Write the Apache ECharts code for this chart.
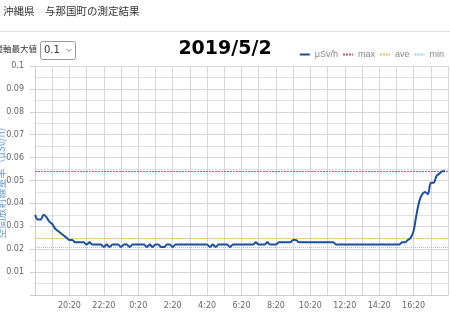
<!DOCTYPE html>
<html>
<head>
<meta charset="utf-8">
<script src="https://cdn.jsdelivr.net/npm/echarts@6/dist/echarts.min.js"></script>
<style>
html,body{margin:0;padding:0;background:#fff;}
#c{width:450px;height:312px;}
</style>
</head>
<body>
<div id="c"></div>
<script>
// ---- data ----
const pageTitle = '沖縄県　与那国町の測定結果';
const dateTitle = '2019/5/2';
const axisMaxLabel = '縦軸最大値';
const axisMaxChoice = '0.1';
const yAxisName = '空間放射線量率（μSv/h）';
const startHour = 18, startMinute = 20, stepMinutes = 10, slotCount = 145;
const doseRate = [
  0.035,0.033,0.033,0.035,0.034,0.032,0.031,0.029,0.028,0.027,0.026,0.025,0.024,0.024,0.023,0.023,0.023,0.023,0.022,0.023,0.022,0.022,0.022,0.022,0.021,
  0.022,0.021,0.022,0.022,0.022,0.021,0.022,0.022,0.021,0.022,0.022,0.022,0.022,0.022,0.021,0.022,0.021,0.022,0.022,0.021,0.021,0.022,0.022,0.021,0.022,
  0.022,0.022,0.022,0.022,0.022,0.022,0.022,0.022,0.022,0.022,0.022,
  0.021,0.022,0.021,0.022,0.022,0.022,0.022,
  0.021,0.022,0.022,0.022,0.022,0.022,0.022,0.022,0.022,
  0.023,0.022,0.022,0.022,0.023,0.022,0.022,0.022,0.023,0.023,0.023,0.023,0.023,0.024,0.024,
  0.023,0.023,0.023,0.023,0.023,0.023,0.023,0.023,0.023,0.023,0.023,0.023,0.023,
  0.022,0.022,0.022,0.022,0.022,0.022,0.022,0.022,0.022,0.022,0.022,0.022,0.022,0.022,0.022,0.022,0.022,0.022,0.022,0.022,0.022,0.022,0.022,
  0.023,0.023,0.024,0.025,0.028,0.035,0.041,0.044,0.045,0.044,0.049,0.049,0.052,0.053,0.054,0.054
];
const maxValue = 0.054;
const aveValue = 0.025;
const minValue = 0.021;
const seriesNames = ['μSv/h', 'max', 'ave', 'min'];

// category labels (HH:MM every 10 minutes)
const categories = [];
for (let i = 0; i < slotCount; i++) {
  const t = startHour * 60 + startMinute + i * stepMinutes;
  const h = Math.floor(t / 60) % 24, m = t % 60;
  categories.push(h + ':' + (m < 10 ? '0' + m : m));
}

const solidIcon = 'path://M0,0h10v2h-10z';
const dashIcon = 'path://M0,0h2v2h-2zM3,0h2v2h-2zM6,0h2v2h-2zM9,0h1v2h-1z';

const chart = echarts.init(document.getElementById('c'), null, {renderer: 'canvas'});
const refLine = (name, value, color, type) => ({
  name: name, type: 'line', data: [], symbol: 'none',
  lineStyle: {color: color, width: 1, type: type},
  itemStyle: {color: color},
  markLine: {
    silent: true, symbol: 'none', label: {show: false}, precision: 4,
    lineStyle: {color: color, width: 1, type: type},
    data: [{yAxis: value}]
  }
});

chart.setOption({
  animation: false,
  textStyle: {fontFamily: 'DejaVu Sans'},
  grid: {left: 35, right: 2, top: 66, bottom: 17, containLabel: false, outerBoundsMode: 'none'},
  legend: {
    data: [
      {name: seriesNames[0], icon: solidIcon},
      {name: seriesNames[1], icon: dashIcon},
      {name: seriesNames[2], icon: dashIcon},
      {name: seriesNames[3], icon: dashIcon}
    ],
    right: 6, top: 50, itemWidth: 10, itemHeight: 2, itemGap: 5,
    textStyle: {color: '#888', fontSize: 9, fontFamily: 'Liberation Sans'},
    padding: 0
  },
  xAxis: {
    type: 'category', data: categories, boundaryGap: false,
    axisLine: {lineStyle: {color: '#ccc'}},
    axisTick: {show: false},
    axisLabel: {
      color: '#666', fontSize: 8, margin: 7,
      interval: (i) => i % 12 === 0 && i > 0 && i < slotCount - 1
    },
    splitLine: {show: true, interval: (i) => i % 6 === 0, lineStyle: {color: '#d6d6d6'}}
  },
  yAxis: {
    type: 'value', min: 0, max: 0.1, interval: 0.01,
    axisLine: {show: true, lineStyle: {color: '#ccc'}},
    axisTick: {show: true, length: 5, lineStyle: {color: '#ccc'}},
    axisLabel: {
      color: '#666', fontSize: 8, margin: 11,
      formatter: (v) => v === 0 ? '' : String(+v.toFixed(3))
    },
    splitLine: {lineStyle: {color: '#d6d6d6'}},
    minorTick: {show: false, splitNumber: 2},
    minorSplitLine: {show: true, lineStyle: {color: '#e2e2e2'}}
  },
  series: [
    {
      name: seriesNames[0], type: 'line', data: doseRate, symbol: 'none', smooth: 0.3,
      lineStyle: {color: '#1b4f9e', width: 2}, itemStyle: {color: '#1b4f9e'}, z: 5
    },
    refLine(seriesNames[1], maxValue, '#d9506e', [2, 1]),
    refLine(seriesNames[2], aveValue, '#f2c24e', [2, 1]),
    refLine(seriesNames[3], minValue, '#8ecfe6', [1, 1])
  ],
  graphic: [
    {type: 'text', left: 3, top: 6, style: {text: pageTitle, fontSize: 10.5, fill: '#333', fontFamily: 'Noto Sans CJK JP'}},
    {type: 'line', shape: {x1: 0, y1: 31.5, x2: 450, y2: 31.5}, style: {stroke: '#ddd', lineWidth: 1}},
    {type: 'text', right: 413, top: 45, style: {text: axisMaxLabel, fontSize: 8.5, fill: '#333', fontFamily: 'Noto Sans CJK JP', textAlign: 'right'}},
    {type: 'rect', shape: {x: 40.5, y: 41.5, width: 35, height: 18, r: 2}, style: {fill: '#fff', stroke: '#999', lineWidth: 1}},
    {type: 'text', left: 44, top: 45, style: {text: axisMaxChoice, fontSize: 10, fill: '#333', fontFamily: 'DejaVu Sans'}},
    {type: 'polyline', shape: {points: [[66.5, 49], [69, 51.5], [71.5, 49]]}, style: {stroke: '#666', lineWidth: 0.8, fill: null}},
    {type: 'text', left: 'center', top: 40, style: {text: dateTitle, fontSize: 19, fontWeight: 'bold', fill: '#000', fontFamily: 'DejaVu Sans'}},
    {type: 'text', x: 1, y: 180, rotation: Math.PI / 2,
     style: {text: yAxisName, fontSize: 10, fill: '#6a9fd0', fontFamily: 'Noto Sans CJK JP', textAlign: 'center', textVerticalAlign: 'middle'}}
  ]
});
</script>
</body>
</html>
